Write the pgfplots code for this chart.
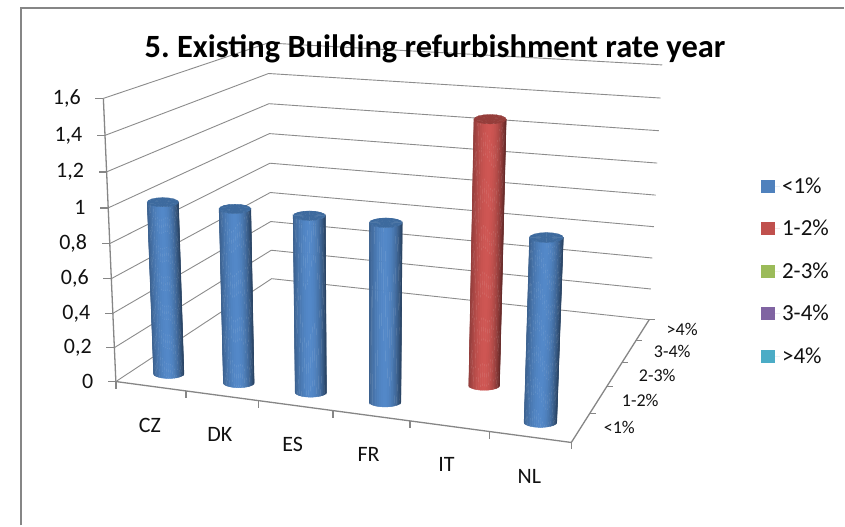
\documentclass[border=0pt]{standalone}
\usepackage{fontspec}
\setmainfont{Carlito}
\usepackage{pgfplots}
\usepackage{pgfplotstable}
\pgfplotsset{compat=1.18}

\definecolor{frameline}{HTML}{868686}
\definecolor{gridline}{HTML}{8C8C8C}
\definecolor{labeltext}{HTML}{111111}
\definecolor{serA}{HTML}{4F81BD}
\definecolor{serB}{HTML}{C0504D}
\definecolor{serC}{HTML}{9BBB59}
\definecolor{serD}{HTML}{8064A2}
\definecolor{serE}{HTML}{4BACC6}
\definecolor{bodyA}{HTML}{5388C8}
\definecolor{bodyB}{HTML}{CE5653}
\definecolor{capA}{HTML}{3D6A9E}
\definecolor{capB}{HTML}{953D3A}

% Perspective of the chart box: s along the countries, t along the rate classes,
% w up the value axis, all three running from 0 to 1.
\pgfmathdeclarefunction{scrd}{3}{\pgfmathparse{1-0.08778*#1+0.22446*#2-0.04876*#3}}
\pgfmathdeclarefunction{scrx}{3}{\pgfmathparse{(405.79*#1+217.05*#2+116-17.55*#3)/(1-0.08778*#1+0.22446*#2-0.04876*#3)}}
\pgfmathdeclarefunction{scry}{3}{\pgfmathparse{(22.11*#1-40.38*#2+382+#3*(-288.3-1.96*#1-2.76*#2))/(1-0.08778*#1+0.22446*#2-0.04876*#3)}}

% One row for each column: country index, rate class index, value
\pgfplotstableread{
cat depth value
0 0 1
1 0 1
2 0 1
3 0 1
4 1 1.5
5 0 1
}\refurbtable

\begin{document}
\begin{tikzpicture}
\begin{axis}[
  scale only axis, width=845pt, height=526pt,
  xmin=0, xmax=845, ymin=0, ymax=526, y dir=reverse,
  hide axis, clip=false,
  legend cell align=left,
  legend style={at={(axis cs:762,176)}, anchor=north west, draw=none, fill=none,
    font=\fontsize{23}{23}\selectfont\color{labeltext}, inner sep=0pt, outer sep=0pt,
    row sep=21.3pt,
    /tikz/every even column/.append style={column sep=0pt}},
  legend image code/.code={\path[#1] (0pt,-6.5pt) rectangle (13.5pt,6.5pt);\path (0pt,0pt) -- (19pt,0pt);},
]
% page and chart frame
\path[fill=white] (axis cs:0,0) rectangle (axis cs:845,526);
\draw[frameline, line width=2pt] (axis cs:21,526) -- (axis cs:21,8) -- (axis cs:845,8);

\addlegendimage{fill=serA, draw=none}\addlegendentry{<1\%}
\addlegendimage{fill=serB, draw=none}\addlegendentry{1-2\%}
\addlegendimage{fill=serC, draw=none}\addlegendentry{2-3\%}
\addlegendimage{fill=serD, draw=none}\addlegendentry{3-4\%}
\addlegendimage{fill=serE, draw=none}\addlegendentry{>4\%}

% gridlines over side wall and back wall
\foreach \v in {0,0.2,0.4,0.6,0.8,1,1.2,1.4,1.6}{
  \pgfmathsetmacro\w{\v/1.6}
  \pgfmathsetmacro\xa{scrx(0,0,\w)}\pgfmathsetmacro\ya{scry(0,0,\w)}
  \pgfmathsetmacro\xb{scrx(0,1,\w)}\pgfmathsetmacro\yb{scry(0,1,\w)}
  \pgfmathsetmacro\xc{scrx(1,1,\w)}\pgfmathsetmacro\yc{scry(1,1,\w)}
  \pgfmathsetmacro\xt{\xa-8}
  \edef\temp{\noexpand\addplot[forget plot, gridline, line width=0.9pt]
    coordinates {(\xa,\ya) (\xb,\yb) (\xc,\yc)};}\temp
  % value axis tick
  \edef\temp{\noexpand\addplot[forget plot, frameline, line width=1.3pt]
    coordinates {(\xa,\ya) (\xt,\ya)};}\temp
}

% value axis and floor edges
\pgfmathsetmacro\xa{scrx(0,0,0)}\pgfmathsetmacro\ya{scry(0,0,0)}
\pgfmathsetmacro\xb{scrx(0,0,1)}\pgfmathsetmacro\yb{scry(0,0,1)}
\pgfmathsetmacro\xc{scrx(1,0,0)}\pgfmathsetmacro\yc{scry(1,0,0)}
\pgfmathsetmacro\xd{scrx(1,1,0)}\pgfmathsetmacro\yd{scry(1,1,0)}
\edef\temp{\noexpand\addplot[forget plot, frameline, line width=1.3pt]
  coordinates {(\xb,\yb) (\xa,\ya) (\xc,\yc) (\xd,\yd)};}\temp

% ticks along the countries
\foreach \k in {0,...,6}{
  \pgfmathsetmacro\xa{scrx(\k/6,0,0)}\pgfmathsetmacro\ya{scry(\k/6,0,0)}
  \pgfmathsetmacro\yt{\ya+7}
  \edef\temp{\noexpand\addplot[forget plot, frameline, line width=1.3pt]
    coordinates {(\xa,\ya) (\xa,\yt)};}\temp
}
% ticks along the rate classes
\foreach \k in {1,...,5}{
  \pgfmathsetmacro\xa{scrx(1,\k/5,0)}\pgfmathsetmacro\ya{scry(1,\k/5,0)}
  \pgfmathsetmacro\xt{\xa+6}
  \edef\temp{\noexpand\addplot[forget plot, frameline, line width=1.3pt]
    coordinates {(\xa,\ya) (\xt,\ya)};}\temp
}

% cylinders
\foreach \r in {0,...,5}{
  \pgfplotstablegetelem{\r}{cat}\of\refurbtable\let\cat\pgfplotsretval
  \pgfplotstablegetelem{\r}{depth}\of\refurbtable\let\dep\pgfplotsretval
  \pgfplotstablegetelem{\r}{value}\of\refurbtable\let\val\pgfplotsretval
  \pgfmathsetmacro\s{(\cat+0.5)/6}
  \pgfmathsetmacro\t{(\dep+0.5)/5}
  \pgfmathsetmacro\w{\val/1.6}
  \pgfmathparse{int(\dep)}
  \ifnum\pgfmathresult=0 \def\bodycol{bodyA}\def\capcol{capA}\else \def\bodycol{bodyB}\def\capcol{capB}\fi
  \pgfmathsetmacro\xbot{scrx(\s,\t,0)}\pgfmathsetmacro\ybot{scry(\s,\t,0)}
  \pgfmathsetmacro\xtop{scrx(\s,\t,\w)}\pgfmathsetmacro\ytop{scry(\s,\t,\w)}
  \pgfmathsetmacro\Rb{15.4/scrd(\s,\t,0)}\pgfmathsetmacro\rb{4.8/scrd(\s,\t,0)}
  \pgfmathsetmacro\Rt{15.4/scrd(\s,\t,\w)}\pgfmathsetmacro\rt{4.5/scrd(\s,\t,\w)}
  % body, one strip per step of the visible half turn
  \foreach \i in {0,...,23}{
    \pgfmathsetmacro\ta{180+7.5*\i}
    \pgfmathsetmacro\tb{\ta+7.5}
    \pgfmathsetmacro\um{cos((\ta+\tb)/2)}
    \pgfmathsetmacro\pct{100-(\um<0 ? 30 : 50)*abs(\um)*abs(\um)}
    \pgfmathsetmacro\xaa{\xbot+\Rb*cos(\ta)}\pgfmathsetmacro\yaa{\ybot-\rb*sin(\ta)}
    \pgfmathsetmacro\xab{\xbot+\Rb*cos(\tb)}\pgfmathsetmacro\yab{\ybot-\rb*sin(\tb)}
    \pgfmathsetmacro\xba{\xtop+\Rt*cos(\ta)}\pgfmathsetmacro\yba{\ytop-\rt*sin(\ta)}
    \pgfmathsetmacro\xbb{\xtop+\Rt*cos(\tb)}\pgfmathsetmacro\ybb{\ytop-\rt*sin(\tb)}
    \edef\temp{\noexpand\addplot[forget plot, fill=\bodycol!\pct!black, draw=\bodycol!\pct!black, line width=0.4pt]
      coordinates {(\xaa,\yaa) (\xab,\yab) (\xbb,\ybb) (\xba,\yba)} -- cycle;}\temp
  }
  % top face
  \foreach \i in {0,...,15}{
    \pgfmathsetmacro\ta{22.5*\i}
    \pgfmathsetmacro\tb{\ta+22.5}
    \pgfmathsetmacro\xaa{\xtop+\Rt*cos(\ta)}\pgfmathsetmacro\yaa{\ytop-\rt*sin(\ta)}
    \pgfmathsetmacro\xab{\xtop+\Rt*cos(\tb)}\pgfmathsetmacro\yab{\ytop-\rt*sin(\tb)}
    \edef\temp{\noexpand\addplot[forget plot, fill=\capcol, draw=\capcol, line width=0.3pt]
      coordinates {(\xtop,\ytop) (\xaa,\yaa) (\xab,\yab)} -- cycle;}\temp
  }
}

% value axis labels
\foreach \v/\lab in {0/0,0.2/{0,2},0.4/{0,4},0.6/{0,6},0.8/{0,8},1/1,1.2/{1,2},1.4/{1,4},1.6/{1,6}}{
  \pgfmathsetmacro\w{\v/1.6}
  \pgfmathsetmacro\lx{scrx(0,0,\w)-22.5}
  \pgfmathsetmacro\ly{scry(0,0,\w)}
  \edef\temp{\noexpand\node[anchor=east, inner sep=0pt, text=labeltext, font=\noexpand\fontsize{22}{22}\noexpand\selectfont]
    at (axis cs:\lx,\ly) {\lab};}\temp
}

% country labels
\foreach \x/\y/\lab in {150/426/CZ,220/435/DK,293/445/ES,369/455/FR,447/465/IT,530/477/NL}{
  \edef\temp{\noexpand\node[inner sep=0pt, text=labeltext, font=\noexpand\fontsize{22}{22}\noexpand\selectfont]
    at (axis cs:\x,\y) {\lab};}\temp
}
% rate class labels
\foreach \x/\y/\lab in {683/330/{>4\%},673/352/{3-4\%},658/376/{2-3\%},641/401/{1-2\%},620/428/{<1\%}}{
  \edef\temp{\noexpand\node[inner sep=0pt, text=labeltext, font=\noexpand\fontsize{18}{18}\noexpand\selectfont]
    at (axis cs:\x,\y) {\lab};}\temp
}

% chart title
\node[inner sep=0pt, text=black, font=\fontsize{32.5}{32.5}\selectfont\bfseries] at (axis cs:435.5,49) {5.\ Existing Building refurbishment rate year};
\end{axis}
\end{tikzpicture}
\end{document}
